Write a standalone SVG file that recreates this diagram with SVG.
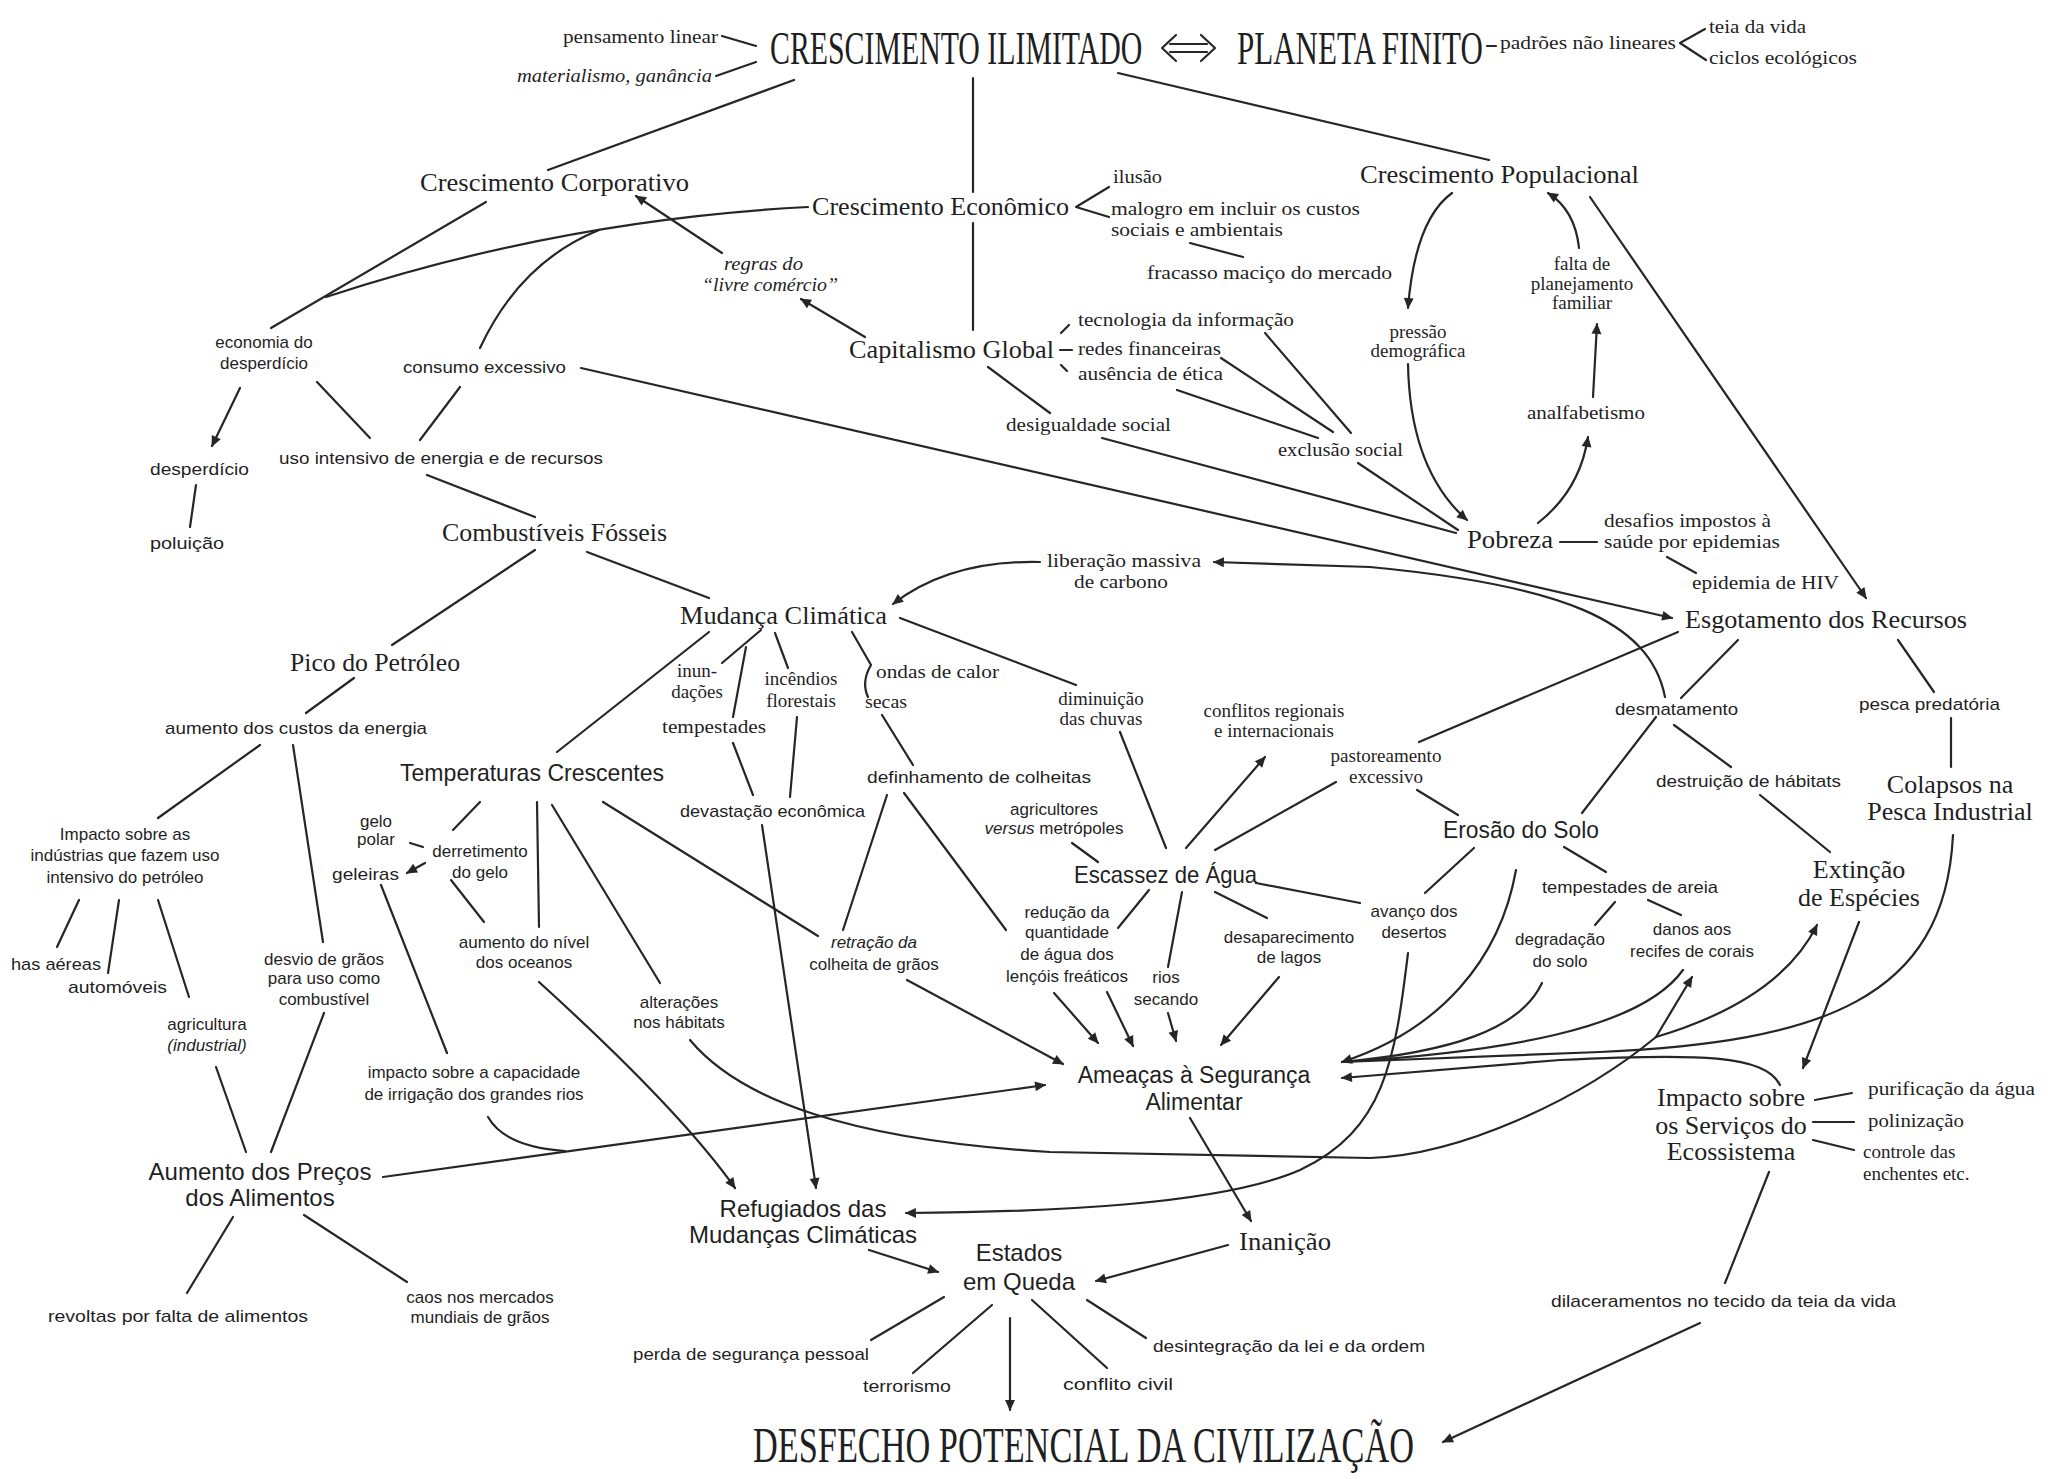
<svg xmlns="http://www.w3.org/2000/svg" width="2056" height="1479" viewBox="0 0 2056 1479">
<defs>
<style>
.c{fill:none;stroke:#262626;stroke-width:2.2;stroke-linecap:round;stroke-linejoin:round}
text{fill:#1f1f1f}
.big{font-family:"Liberation Serif",serif;font-size:46px}
.n{font-family:"Liberation Serif",serif;font-size:26px}
.ns{font-family:"Liberation Sans",sans-serif;font-size:24px}
.s{font-family:"Liberation Serif",serif;font-size:19px}
.a{font-family:"Liberation Sans",sans-serif;font-size:17px}
.i{font-style:italic}
.m{text-anchor:middle}
</style>
<marker id="ah" viewBox="0 0 10 10" refX="9" refY="5" markerWidth="14" markerHeight="11" markerUnits="userSpaceOnUse" orient="auto"><path d="M0,0.5 L10,5 L0,9.5 z" fill="#262626"/></marker>
</defs>
<rect width="2056" height="1479" fill="#fff"/>

<g id="connectors" class="c">
<path d="M722,36 L756,46"/>
<path d="M716,76 L756,62"/>
<path d="M794,80 L548,170"/>
<path d="M973,78 L973,192"/>
<path d="M973,223 L973,330"/>
<path d="M1118,73 L1489,160"/>
<path d="M1170,44 H1207 M1170,52 H1207 M1176,35 L1162,48 L1176,61 M1201,35 L1215,48 L1201,61"/>
<path d="M1487,46 H1496"/>
<path d="M1705,29 L1680,43 L1706,60"/>
<path d="M1109,187 L1076,207 L1109,217"/>
<path d="M1190,243 L1243,257"/>
<path d="M722,253 L636,196" marker-end="url(#ah)"/>
<path d="M865,337 L801,299" marker-end="url(#ah)"/>
<path d="M1061,333 L1069,325 M1060,350 L1072,350 M1061,365 L1067,371"/>
<path d="M1265,333 L1351,433"/>
<path d="M1221,358 L1333,432"/>
<path d="M1177,390 L1318,438"/>
<path d="M988,367 L1050,413"/>
<path d="M1102,438 L1456,533"/>
<path d="M1358,463 L1458,530"/>
<path d="M1452,193 Q1415,220 1408,308" marker-end="url(#ah)"/>
<path d="M1408,364 Q1410,470 1467,520" marker-end="url(#ah)"/>
<path d="M1538,523 Q1580,490 1588,437" marker-end="url(#ah)"/>
<path d="M1593,397 L1597,324" marker-end="url(#ah)"/>
<path d="M1579,248 Q1575,210 1548,193" marker-end="url(#ah)"/>
<path d="M1590,197 L1866,598" marker-end="url(#ah)"/>
<path d="M1560,542 L1597,542"/>
<path d="M1667,557 L1696,573"/>
<path d="M271,328 L486,202"/>
<path d="M326,297 Q560,220 808,207"/>
<path d="M480,348 Q520,262 599,230"/>
<path d="M581,368 L1672,618" marker-end="url(#ah)"/>
<path d="M240,388 L212,446" marker-end="url(#ah)"/>
<path d="M317,382 L370,438"/>
<path d="M460,387 L420,440"/>
<path d="M196,485 L190,527"/>
<path d="M427,475 L535,517"/>
<path d="M535,550 L392,645"/>
<path d="M587,552 L709,598"/>
<path d="M354,678 L306,713"/>
<path d="M260,745 L158,818"/>
<path d="M293,745 L323,942"/>
<path d="M79,900 L57,947 M119,900 L108,973 M158,900 L189,997"/>
<path d="M216,1067 L246,1152 M324,1013 L271,1152"/>
<path d="M233,1217 L187,1293 M304,1215 L407,1282"/>
<path d="M383,1177 L1045,1085" marker-end="url(#ah)"/>
<path d="M488,1117 Q505,1147 565,1151"/>
<path d="M709,632 L557,752"/>
<path d="M761,630 L722,663"/>
<path d="M746,647 L733,717"/>
<path d="M775,633 L788,668"/>
<path d="M852,632 L871,665 Q861,682 868,697"/>
<path d="M900,618 L1076,685"/>
<path d="M1040,562 Q950,560 893,604" marker-end="url(#ah)"/>
<path d="M1665,697 C1650,620 1560,585 1370,567 L1214,562" marker-end="url(#ah)"/>
<path d="M733,743 L753,795"/>
<path d="M797,717 L790,797"/>
<path d="M762,825 L816,1188" marker-end="url(#ah)"/>
<path d="M882,715 L913,765"/>
<path d="M887,795 L843,930"/>
<path d="M904,793 L1006,930"/>
<path d="M1120,732 L1166,848"/>
<path d="M1072,843 L1098,862"/>
<path d="M1186,848 L1265,757" marker-end="url(#ah)"/>
<path d="M1336,782 L1215,850"/>
<path d="M1678,632 L1419,742"/>
<path d="M1738,640 L1681,698"/>
<path d="M1898,640 L1934,692"/>
<path d="M1951,718 L1951,767"/>
<path d="M1656,717 L1582,813"/>
<path d="M1674,725 L1731,767"/>
<path d="M1760,795 L1830,852"/>
<path d="M1417,790 L1458,815"/>
<path d="M1256,883 L1360,903"/>
<path d="M1149,890 L1118,928"/>
<path d="M1182,892 L1168,967"/>
<path d="M1215,892 L1267,918"/>
<path d="M907,980 L1063,1064" marker-end="url(#ah)"/>
<path d="M1054,993 L1098,1043" marker-end="url(#ah)"/>
<path d="M1107,992 L1133,1046" marker-end="url(#ah)"/>
<path d="M1168,1013 L1176,1041" marker-end="url(#ah)"/>
<path d="M1279,977 L1221,1045" marker-end="url(#ah)"/>
<path d="M1474,848 L1425,893"/>
<path d="M1564,847 L1606,872"/>
<path d="M1615,902 L1595,925 M1648,900 L1681,915"/>
<path d="M1516,870 C1500,960 1440,1030 1342,1062" marker-end="url(#ah)"/>
<path d="M1542,983 C1520,1030 1450,1052 1342,1062"/>
<path d="M1683,970 C1640,1030 1500,1052 1342,1062"/>
<path d="M1953,835 C1945,1000 1820,1042 1600,1052 L1342,1062"/>
<path d="M1780,1085 C1765,1055 1700,1053 1560,1060 L1342,1078" marker-end="url(#ah)"/>
<path d="M690,1040 C740,1100 850,1140 1050,1152 L1370,1158 C1460,1155 1580,1100 1656,1037"/>
<path d="M1656,1037 Q1780,1000 1817,925" marker-end="url(#ah)"/>
<path d="M1656,1037 L1692,977" marker-end="url(#ah)"/>
<path d="M1408,953 C1395,1060 1385,1130 1300,1170 C1220,1205 1050,1212 906,1213" marker-end="url(#ah)"/>
<path d="M1190,1118 L1251,1221" marker-end="url(#ah)"/>
<path d="M1228,1245 L1096,1281" marker-end="url(#ah)"/>
<path d="M869,1250 L938,1272" marker-end="url(#ah)"/>
<path d="M539,982 Q680,1110 735,1188" marker-end="url(#ah)"/>
<path d="M480,802 L453,830"/>
<path d="M425,863 L407,873" marker-end="url(#ah)"/>
<path d="M410,843 L423,847"/>
<path d="M451,880 L484,922"/>
<path d="M537,802 L539,927"/>
<path d="M552,805 L660,983"/>
<path d="M603,802 L818,936"/>
<path d="M381,885 L447,1053"/>
<path d="M944,1297 L871,1340 M992,1305 L913,1373"/>
<path d="M1010,1318 L1010,1410" marker-end="url(#ah)"/>
<path d="M1032,1300 L1107,1368 M1087,1300 L1146,1338"/>
<path d="M1815,1100 L1852,1093 M1813,1122 L1854,1122 M1813,1140 L1854,1150"/>
<path d="M1769,1172 L1725,1283"/>
<path d="M1700,1323 L1443,1442" marker-end="url(#ah)"/>
<path d="M1859,922 L1803,1068" marker-end="url(#ah)"/>
</g>

<g id="n-pensamento"><text class="s" x="563" y="43" textLength="155" lengthAdjust="spacingAndGlyphs">pensamento linear</text></g>
<g id="n-materialismo"><text class="s i" x="517" y="82" textLength="195" lengthAdjust="spacingAndGlyphs">materialismo, ganância</text></g>
<g id="n-crescimento-ilimitado"><text class="big" transform="translate(770,64) scale(0.643,1)" x="0" y="0" textLength="579" lengthAdjust="spacingAndGlyphs">CRESCIMENTO ILIMITADO</text></g>
<g id="n-planeta-finito"><text class="big" transform="translate(1237,64) scale(0.661,1)" x="0" y="0" textLength="372" lengthAdjust="spacingAndGlyphs">PLANETA FINITO</text></g>
<g id="n-padroes"><text class="s" x="1500" y="49" textLength="176" lengthAdjust="spacingAndGlyphs">padrões não lineares</text></g>
<g id="n-teia"><text class="s" x="1709" y="33" textLength="97" lengthAdjust="spacingAndGlyphs">teia da vida</text></g>
<g id="n-ciclos"><text class="s" x="1709" y="64" textLength="148" lengthAdjust="spacingAndGlyphs">ciclos ecológicos</text></g>

<g id="n-corporativo"><text class="n" x="420" y="191" textLength="269" lengthAdjust="spacingAndGlyphs">Crescimento Corporativo</text></g>
<g id="n-economico"><text class="n" x="812" y="215" textLength="257" lengthAdjust="spacingAndGlyphs">Crescimento Econômico</text></g>
<g id="n-ilusao"><text class="s" x="1113" y="183" textLength="49" lengthAdjust="spacingAndGlyphs">ilusão</text></g>
<g id="n-malogro"><text class="s" x="1111" y="215" textLength="249" lengthAdjust="spacingAndGlyphs">malogro em incluir os custos</text><text class="s" x="1111" y="236" textLength="172" lengthAdjust="spacingAndGlyphs">sociais e ambientais</text></g>
<g id="n-fracasso"><text class="s" x="1147" y="279" textLength="245" lengthAdjust="spacingAndGlyphs">fracasso maciço do mercado</text></g>
<g id="n-populacional"><text class="n" x="1360" y="183" textLength="279" lengthAdjust="spacingAndGlyphs">Crescimento Populacional</text></g>
<g id="n-regras"><text class="s i" x="724" y="270" textLength="79" lengthAdjust="spacingAndGlyphs">regras do</text><text class="s i" x="702" y="291" textLength="136" lengthAdjust="spacingAndGlyphs">“livre comércio”</text></g>
<g id="n-capitalismo"><text class="n" x="849" y="358" textLength="205" lengthAdjust="spacingAndGlyphs">Capitalismo Global</text></g>
<g id="n-tecnologia"><text class="s" x="1078" y="326" textLength="216" lengthAdjust="spacingAndGlyphs">tecnologia da informação</text></g>
<g id="n-redes"><text class="s" x="1078" y="355" textLength="143" lengthAdjust="spacingAndGlyphs">redes financeiras</text></g>
<g id="n-etica"><text class="s" x="1078" y="380" textLength="145" lengthAdjust="spacingAndGlyphs">ausência de ética</text></g>
<g id="n-desigualdade"><text class="s" x="1006" y="431" textLength="165" lengthAdjust="spacingAndGlyphs">desigualdade social</text></g>
<g id="n-exclusao"><text class="s" x="1278" y="456" textLength="125" lengthAdjust="spacingAndGlyphs">exclusão social</text></g>
<g id="n-pressao"><text class="s m" x="1418" y="338">pressão<tspan x="1418" y="357">demográfica</tspan></text></g>
<g id="n-falta"><text class="s m" x="1582" y="270">falta de<tspan x="1582" y="290">planejamento</tspan><tspan x="1582" y="309">familiar</tspan></text></g>
<g id="n-analfabetismo"><text class="s" x="1527" y="419" textLength="118" lengthAdjust="spacingAndGlyphs">analfabetismo</text></g>
<g id="n-pobreza"><text class="n" x="1467" y="548" textLength="86" lengthAdjust="spacingAndGlyphs">Pobreza</text></g>
<g id="n-desafios"><text class="s" x="1604" y="527" textLength="167" lengthAdjust="spacingAndGlyphs">desafios impostos à</text><text class="s" x="1604" y="548" textLength="176" lengthAdjust="spacingAndGlyphs">saúde por epidemias</text></g>
<g id="n-hiv"><text class="s" x="1692" y="589" textLength="147" lengthAdjust="spacingAndGlyphs">epidemia de HIV</text></g>

<g id="n-economia-desperdicio"><text class="a m" x="264" y="348">economia do<tspan x="264" y="369">desperdício</tspan></text></g>
<g id="n-consumo"><text class="a" x="403" y="373" textLength="163" lengthAdjust="spacingAndGlyphs">consumo excessivo</text></g>
<g id="n-desperdicio"><text class="a" x="150" y="475" textLength="99" lengthAdjust="spacingAndGlyphs">desperdício</text></g>
<g id="n-poluicao"><text class="a" x="150" y="549" textLength="74" lengthAdjust="spacingAndGlyphs">poluição</text></g>
<g id="n-uso-intensivo"><text class="a" x="279" y="464" textLength="324" lengthAdjust="spacingAndGlyphs">uso intensivo de energia e de recursos</text></g>
<g id="n-combustiveis"><text class="n" x="442" y="541" textLength="225" lengthAdjust="spacingAndGlyphs">Combustíveis Fósseis</text></g>
<g id="n-pico"><text class="n" x="290" y="671" textLength="170" lengthAdjust="spacingAndGlyphs">Pico do Petróleo</text></g>
<g id="n-custos-energia"><text class="a" x="165" y="734" textLength="262" lengthAdjust="spacingAndGlyphs">aumento dos custos da energia</text></g>
<g id="n-mudanca"><text class="n" x="680" y="624" textLength="207" lengthAdjust="spacingAndGlyphs">Mudança Climática</text></g>
<g id="n-liberacao"><text class="s" x="1047" y="567" textLength="154" lengthAdjust="spacingAndGlyphs">liberação massiva</text><text class="s" x="1074" y="588" textLength="94" lengthAdjust="spacingAndGlyphs">de carbono</text></g>
<g id="n-esgotamento"><text class="n" x="1685" y="628" textLength="282" lengthAdjust="spacingAndGlyphs">Esgotamento dos Recursos</text></g>
<g id="n-inundacoes"><text class="s m" x="697" y="677">inun-<tspan x="697" y="698">dações</tspan></text></g>
<g id="n-tempestades"><text class="s" x="662" y="733" textLength="104" lengthAdjust="spacingAndGlyphs">tempestades</text></g>
<g id="n-incendios"><text class="s m" x="801" y="685">incêndios<tspan x="801" y="707">florestais</tspan></text></g>
<g id="n-ondas"><text class="s" x="876" y="678" textLength="123" lengthAdjust="spacingAndGlyphs">ondas de calor</text></g>
<g id="n-secas"><text class="s" x="865" y="708" textLength="42" lengthAdjust="spacingAndGlyphs">secas</text></g>
<g id="n-diminuicao"><text class="s m" x="1101" y="705">diminuição<tspan x="1101" y="725">das chuvas</tspan></text></g>
<g id="n-conflitos"><text class="s m" x="1274" y="717">conflitos regionais<tspan x="1274" y="737">e internacionais</tspan></text></g>
<g id="n-desmatamento"><text class="a" x="1615" y="715" textLength="123" lengthAdjust="spacingAndGlyphs">desmatamento</text></g>
<g id="n-pesca"><text class="a" x="1859" y="710" textLength="141" lengthAdjust="spacingAndGlyphs">pesca predatória</text></g>
<g id="n-pastoreamento"><text class="s m" x="1386" y="762">pastoreamento<tspan x="1386" y="783">excessivo</tspan></text></g>

<g id="n-temperaturas"><text class="ns" x="400" y="781" textLength="264" lengthAdjust="spacingAndGlyphs">Temperaturas Crescentes</text></g>
<g id="n-definhamento"><text class="a" x="867" y="783" textLength="224" lengthAdjust="spacingAndGlyphs">definhamento de colheitas</text></g>
<g id="n-devastacao"><text class="a" x="680" y="817" textLength="185" lengthAdjust="spacingAndGlyphs">devastação econômica</text></g>
<g id="n-agricultores"><text class="a m" x="1054" y="815">agricultores<tspan x="1054" y="834"><tspan class="i">versus</tspan> metrópoles</tspan></text></g>
<g id="n-escassez"><text class="ns" x="1074" y="883" textLength="183" lengthAdjust="spacingAndGlyphs">Escassez de Água</text></g>
<g id="n-erosao"><text class="ns" x="1443" y="838" textLength="156" lengthAdjust="spacingAndGlyphs">Erosão do Solo</text></g>
<g id="n-destruicao"><text class="a" x="1656" y="787" textLength="185" lengthAdjust="spacingAndGlyphs">destruição de hábitats</text></g>
<g id="n-colapsos"><text class="n m" x="1950" y="793">Colapsos na<tspan x="1950" y="820">Pesca Industrial</tspan></text></g>
<g id="n-extincao"><text class="n m" x="1859" y="878">Extinção<tspan x="1859" y="906">de Espécies</tspan></text></g>
<g id="n-tempestades-areia"><text class="a" x="1542" y="893" textLength="176" lengthAdjust="spacingAndGlyphs">tempestades de areia</text></g>
<g id="n-avanco"><text class="a m" x="1414" y="917">avanço dos<tspan x="1414" y="938">desertos</tspan></text></g>
<g id="n-degradacao"><text class="a m" x="1560" y="945">degradação<tspan x="1560" y="967">do solo</tspan></text></g>
<g id="n-danos"><text class="a m" x="1692" y="935">danos aos<tspan x="1692" y="957">recifes de corais</tspan></text></g>
<g id="n-impacto-servicos"><text class="n m" x="1731" y="1106">Impacto sobre<tspan x="1731" y="1134">os Serviços do</tspan><tspan x="1731" y="1160">Ecossistema</tspan></text></g>
<g id="n-purificacao"><text class="s" x="1868" y="1095" textLength="167" lengthAdjust="spacingAndGlyphs">purificação da água</text></g>
<g id="n-polinizacao"><text class="s" x="1868" y="1127" textLength="96" lengthAdjust="spacingAndGlyphs">polinização</text></g>
<g id="n-controle"><text class="s" x="1863" y="1158">controle das<tspan x="1863" y="1180">enchentes etc.</tspan></text></g>

<g id="n-impacto-industrias"><text class="a m" x="125" y="840">Impacto sobre as<tspan x="125" y="861">indústrias que fazem uso</tspan><tspan x="125" y="883">intensivo do petróleo</tspan></text></g>
<g id="n-linhas-aereas"><text class="a" x="11" y="970" textLength="90" lengthAdjust="spacingAndGlyphs">has aéreas</text></g>
<g id="n-automoveis"><text class="a" x="68" y="993" textLength="99" lengthAdjust="spacingAndGlyphs">automóveis</text></g>
<g id="n-agricultura"><text class="a m" x="207" y="1030">agricultura<tspan class="i" x="207" y="1051">(industrial)</tspan></text></g>
<g id="n-desvio"><text class="a m" x="324" y="965">desvio de grãos<tspan x="324" y="984">para uso como</tspan><tspan x="324" y="1005">combustível</tspan></text></g>
<g id="n-gelo-polar"><text class="a m" x="376" y="827">gelo<tspan x="376" y="845">polar</tspan></text></g>
<g id="n-derretimento"><text class="a m" x="480" y="857">derretimento<tspan x="480" y="878">do gelo</tspan></text></g>
<g id="n-geleiras"><text class="a" x="332" y="880" textLength="67" lengthAdjust="spacingAndGlyphs">geleiras</text></g>
<g id="n-nivel-oceanos"><text class="a m" x="524" y="948">aumento do nível<tspan x="524" y="968">dos oceanos</tspan></text></g>
<g id="n-alteracoes"><text class="a m" x="679" y="1008">alterações<tspan x="679" y="1028">nos hábitats</tspan></text></g>
<g id="n-irrigacao"><text class="a m" x="474" y="1078">impacto sobre a capacidade<tspan x="474" y="1100">de irrigação dos grandes rios</tspan></text></g>
<g id="n-retracao"><text class="a m" x="874" y="948"><tspan class="i">retração da</tspan><tspan x="874" y="970">colheita de grãos</tspan></text></g>
<g id="n-reducao"><text class="a m" x="1067" y="918">redução da<tspan x="1067" y="938">quantidade</tspan><tspan x="1067" y="960">de água dos</tspan><tspan x="1067" y="982">lençóis freáticos</tspan></text></g>
<g id="n-rios"><text class="a m" x="1166" y="983">rios<tspan x="1166" y="1005">secando</tspan></text></g>
<g id="n-lagos"><text class="a m" x="1289" y="943">desaparecimento<tspan x="1289" y="963">de lagos</tspan></text></g>
<g id="n-ameacas"><text class="ns m" x="1194" y="1083" style="font-size:23px">Ameaças à Segurança<tspan x="1194" y="1110">Alimentar</tspan></text></g>

<g id="n-precos"><text class="ns m" x="260" y="1180">Aumento dos Preços<tspan x="260" y="1206">dos Alimentos</tspan></text></g>
<g id="n-revoltas"><text class="a" x="48" y="1322" textLength="260" lengthAdjust="spacingAndGlyphs">revoltas por falta de alimentos</text></g>
<g id="n-caos"><text class="a m" x="480" y="1303">caos nos mercados<tspan x="480" y="1323">mundiais de grãos</tspan></text></g>
<g id="n-refugiados"><text class="ns m" x="803" y="1217">Refugiados das<tspan x="803" y="1243">Mudanças Climáticas</tspan></text></g>
<g id="n-estados"><text class="ns m" x="1019" y="1261">Estados<tspan x="1019" y="1290">em Queda</tspan></text></g>
<g id="n-inanicao"><text class="n" x="1239" y="1250" textLength="92" lengthAdjust="spacingAndGlyphs">Inanição</text></g>
<g id="n-perda"><text class="a" x="633" y="1360" textLength="236" lengthAdjust="spacingAndGlyphs">perda de segurança pessoal</text></g>
<g id="n-terrorismo"><text class="a" x="863" y="1392" textLength="88" lengthAdjust="spacingAndGlyphs">terrorismo</text></g>
<g id="n-conflito-civil"><text class="a" x="1063" y="1390" textLength="110" lengthAdjust="spacingAndGlyphs">conflito civil</text></g>
<g id="n-desintegracao"><text class="a" x="1153" y="1352" textLength="272" lengthAdjust="spacingAndGlyphs">desintegração da lei e da ordem</text></g>
<g id="n-dilaceramentos"><text class="a" x="1551" y="1307" textLength="345" lengthAdjust="spacingAndGlyphs">dilaceramentos no tecido da teia da vida</text></g>
<g id="n-desfecho"><text class="big" transform="translate(753,1462) scale(0.685,1)" x="0" y="0" textLength="965" lengthAdjust="spacingAndGlyphs" style="font-size:50px">DESFECHO POTENCIAL DA CIVILIZAÇÃO</text></g>
</svg>
